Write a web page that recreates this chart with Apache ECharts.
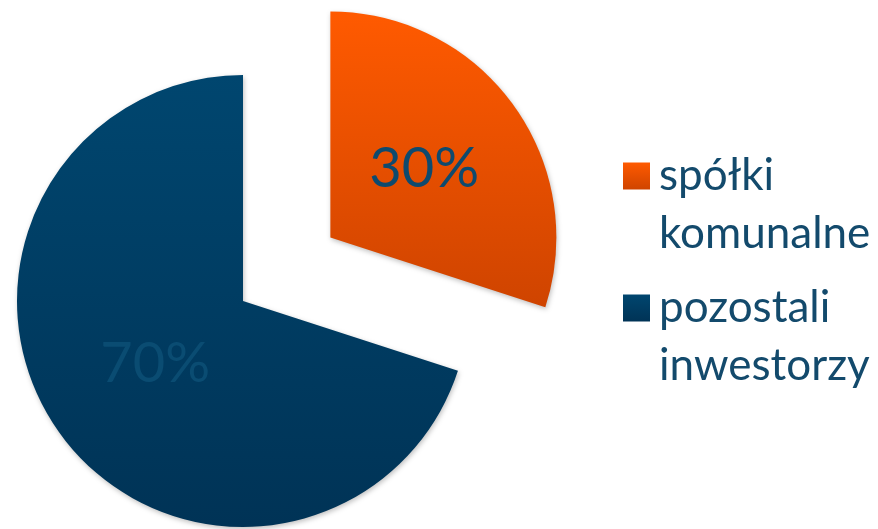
<!DOCTYPE html>
<html>
<head>
<meta charset="utf-8">
<script src="https://cdn.jsdelivr.net/npm/echarts@6/dist/echarts.min.js"></script>
<style>
html,body{margin:0;padding:0;background:#fff;}
#chart{width:878px;height:529px;}
</style>
</head>
<body>
<div id="chart"></div>
<script>
var names = ['spółki komunalne', 'pozostali inwestorzy'];
var legendLines = [['spółki', 'komunalne'], ['pozostali', 'inwestorzy']];
var values = [30, 70];
var topColors = ['#FF5A00', '#00466F'];
var bottomColors = ['#CF4400', '#003356'];
var labelColors = ['#0E4A6E', '#0A4C72'];

var myChart = echarts.init(document.getElementById('chart'));

var pieData = [];
for (var i = 0; i < names.length; i++) {
    pieData.push({
        name: names[i],
        value: values[i],
        selected: i === 0,
        itemStyle: {
            color: new echarts.graphic.LinearGradient(0, 0, 0, 1, [
                {offset: 0, color: topColors[i]},
                {offset: 1, color: bottomColors[i]}
            ])
        },
        label: {color: labelColors[i]}
    });
}

var option = {
    animation: false,
    legend: {
        orient: 'vertical',
        left: 618,
        top: 84,
        itemWidth: 27,
        itemHeight: 27,
        itemGap: -42,
        icon: 'rect',
        selectedMode: false,
        data: names,
        formatter: function (name) {
            var idx = names.indexOf(name);
            return '\n' + legendLines[idx].join('\n');   //空行让图标对齐第一行
        },
        textStyle: {
            color: '#134A6C',
            fontFamily: 'Lato',
            fontSize: 44,
            lineHeight: 58,
            padding: [0, 0, 0, 4]
        }
    },
    series: [
        {
            type: 'pie',
            center: [243, 301],
            radius: 226,
            startAngle: 90,
            clockwise: true,
            selectedMode: 'single',
            selectedOffset: 108,
            emphasis: {disabled: true},
            itemStyle: {
                shadowBlur: 5,
                shadowColor: 'rgba(0,0,0,0.25)',
                shadowOffsetX: 1,
                shadowOffsetY: 2
            },
            label: {
                position: 'inside',
                formatter: '{d}%',
                fontFamily: 'Lato',
                fontSize: 56,
                offset: [6, -5]
            },
            labelLine: {show: false},
            data: pieData
        }
    ]
};

myChart.setOption(option, true);
window.onresize = myChart.resize;
</script>
</body>
</html>
